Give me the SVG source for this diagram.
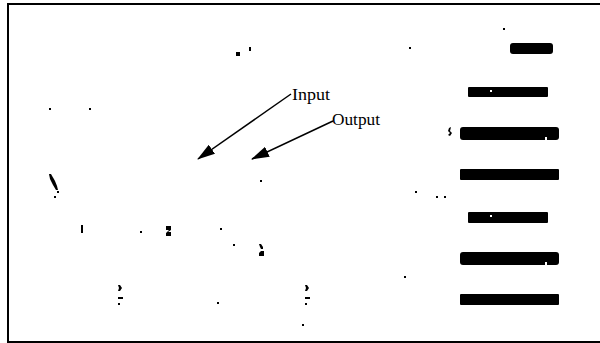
<svg xmlns="http://www.w3.org/2000/svg" width="600" height="343" viewBox="0 0 600 343">
<style>
.lbl{font-family:"Liberation Serif","Times New Roman",serif;font-size:17px;fill:#000}
.bar{fill:#000}
.dot{fill:#000}
.hole{fill:#fff}
.conn{stroke:#000;stroke-width:1.5;fill:none}
</style>
<defs>
<marker id="ah" markerWidth="18" markerHeight="11" refX="17" refY="5.5" orient="auto" markerUnits="userSpaceOnUse">
<path d="M0,0 L18,5.5 L0,11 Z" fill="#000"/>
</marker>
</defs>
<rect width="600" height="343" fill="#fff"/>
<rect x="8" y="4" width="600" height="338" fill="none" stroke="#000" stroke-width="2"/>
<g id="bars">
<rect class="bar" x="510" y="43" width="43" height="11" rx="3"/>
<rect class="bar" x="468" y="87" width="80" height="10" rx="1"/>
<rect class="hole" x="490" y="90" width="2" height="2"/>
<rect class="bar" x="460" y="127" width="99" height="13" rx="3"/>
<rect class="hole" x="545" y="137" width="2" height="3"/>
<rect class="bar" x="460" y="169" width="99" height="11" rx="1"/>
<rect class="bar" x="468" y="212" width="80" height="11" rx="1"/>
<rect class="hole" x="490" y="215" width="2" height="2"/>
<rect class="bar" x="460" y="252" width="99" height="13" rx="3"/>
<rect class="hole" x="545" y="262" width="2" height="3"/>
<rect class="bar" x="460" y="294" width="99" height="11" rx="1"/>
</g>
<g id="specks">
<rect class="dot" x="49" y="108" width="2" height="2"/>
<rect class="dot" x="89" y="108" width="2" height="2"/>
<rect class="dot" x="236" y="52" width="4" height="4"/>
<rect class="dot" x="249" y="47" width="2" height="4"/>
<rect class="dot" x="409" y="47" width="2" height="2"/>
<rect class="dot" x="503" y="28" width="2" height="2"/>
<path class="dot" d="M449,128 L451,127 L450,131 L452,133 L450,136 L448,135 L450,133 L448,131 Z"/>
<path class="dot" d="M49,174 L51,174 L55,181 L57,186 L58,190 L56,190 L53,185 L50,179 Z"/>
<rect class="dot" x="57" y="191" width="2" height="2"/>
<rect class="dot" x="54" y="196" width="2" height="2"/>
<rect class="dot" x="81" y="225" width="2" height="8"/>
<rect class="dot" x="140" y="231" width="2" height="2"/>
<path class="dot" d="M166,226 L171,226 L171,230 L168,232 L171,232 L171,236 L166,236 L166,233 L169,230 L166,230 Z"/>
<rect class="dot" x="220" y="228" width="2" height="2"/>
<rect class="dot" x="233" y="244" width="2" height="2"/>
<path class="dot" d="M259,244 L261,244 L263,247 L263,249 L261,249 L260,247 Z"/>
<path class="dot" d="M261,251 L264,251 L264,256 L259,256 L259,253 Z"/>
<rect class="dot" x="260" y="180" width="2" height="2"/>
<path class="dot" d="M118,285 L120,285 L122,288 L120,291 L118,291 L119,288 Z"/>
<rect class="dot" x="118" y="297" width="5" height="2"/>
<rect class="dot" x="118" y="303" width="2" height="2"/>
<rect class="dot" x="217" y="302" width="2" height="2"/>
<rect class="dot" x="415" y="191" width="2" height="2"/>
<rect class="dot" x="436" y="196" width="2" height="2"/>
<rect class="dot" x="444" y="196" width="2" height="2"/>
<rect class="dot" x="404" y="276" width="2" height="2"/>
<path class="dot" d="M305,285 L307,285 L309,288 L307,291 L305,291 L306,288 Z"/>
<rect class="dot" x="305" y="297" width="5" height="2"/>
<rect class="dot" x="305" y="303" width="2" height="2"/>
<rect class="dot" x="302" y="324" width="2" height="2"/>
</g>
<g id="connectors">
<line class="conn" x1="291" y1="94" x2="198" y2="159" marker-end="url(#ah)"/>
<line class="conn" x1="333" y1="121" x2="252" y2="159" marker-end="url(#ah)"/>
</g>
<g id="input">
<text class="lbl" x="292" y="100" textLength="38" lengthAdjust="spacingAndGlyphs">Input</text>
</g>
<g id="output">
<text class="lbl" x="332" y="125" textLength="48" lengthAdjust="spacingAndGlyphs">Output</text>
</g>
</svg>
